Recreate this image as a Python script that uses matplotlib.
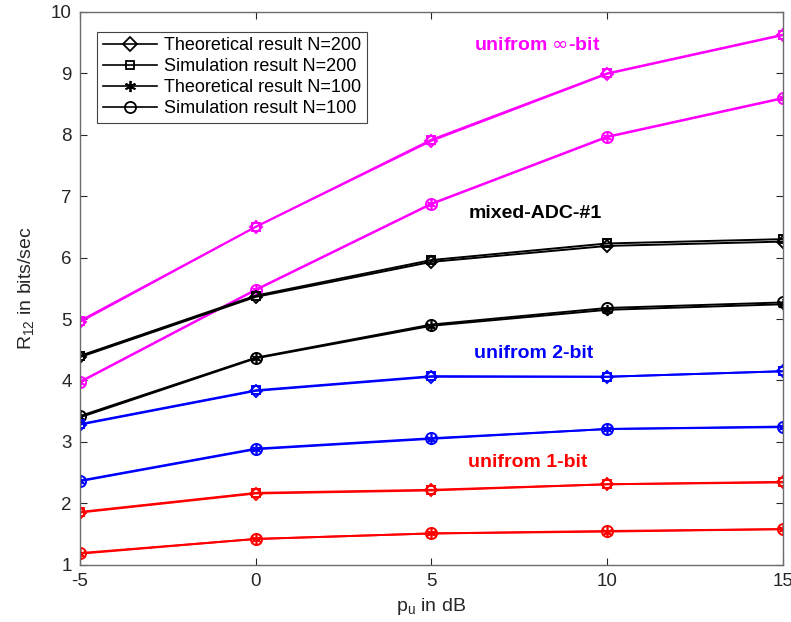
import numpy as np
import matplotlib.pyplot as plt

plt.rcParams['font.family'] = ['Liberation Sans', 'DejaVu Sans']

# transmit power in dB
pu = [-5, 0, 5, 10, 15]

# R12 in bits/sec
# N=200 (theoretical / simulation) and N=100 (theoretical / simulation)
inf_th200 = [4.95, 6.50, 7.90, 8.99, 9.62]
inf_sim200 = [4.97, 6.50, 7.92, 9.00, 9.63]
inf_th100 = [3.97, 5.47, 6.87, 7.96, 8.59]
inf_sim100 = [3.98, 5.48, 6.88, 7.97, 8.60]

mix_th200 = [4.38, 5.36, 5.93, 6.19, 6.26]
mix_sim200 = [4.40, 5.38, 5.96, 6.23, 6.30]
mix_th100 = [3.40, 4.36, 4.89, 5.15, 5.24]
mix_sim100 = [3.42, 4.37, 4.91, 5.18, 5.27]

b2_th200 = [3.28, 3.83, 4.06, 4.06, 4.15]
b2_sim200 = [3.29, 3.84, 4.07, 4.06, 4.15]
b2_th100 = [2.36, 2.88, 3.05, 3.21, 3.24]
b2_sim100 = [2.37, 2.89, 3.06, 3.21, 3.25]

b1_th200 = [1.85, 2.16, 2.21, 2.31, 2.34]
b1_sim200 = [1.86, 2.17, 2.22, 2.31, 2.35]
b1_th100 = [1.18, 1.42, 1.51, 1.54, 1.58]
b1_sim100 = [1.19, 1.42, 1.51, 1.55, 1.58]

groups = [
    ('#ff00ff', inf_th200, inf_sim200, inf_th100, inf_sim100),
    ('k', mix_th200, mix_sim200, mix_th100, mix_sim100),
    ('#0000ff', b2_th200, b2_sim200, b2_th100, b2_sim100),
    ('#ff0000', b1_th200, b1_sim200, b1_th100, b1_sim100),
]

fig = plt.figure(figsize=(7.91, 6.22), dpi=100)
ax = fig.add_axes([0.101, 0.092, 0.889, 0.889])

asterisk = (6, 2, 0)
for c, th200, sim200, th100, sim100 in groups:
    ax.plot(pu, th200, '-', color=c, marker='D', ms=6.5, mfc='none', mew=1.4, lw=1.4)
    ax.plot(pu, sim200, '-', color=c, marker='s', ms=6, mfc='none', mew=1.4, lw=1.4)
    ax.plot(pu, th100, '-', color=c, marker=asterisk, ms=8, mew=1.2, lw=1.4)
    ax.plot(pu, sim100, '-', color=c, marker='o', ms=8, mfc='none', mew=1.4, lw=1.4)

# legend entries in black
h1, = ax.plot([], [], '-k', marker='D', ms=7, mfc='none', mew=1.3, lw=1.2)
h2, = ax.plot([], [], '-k', marker='s', ms=6, mfc='none', mew=1.3, lw=1.2)
h3, = ax.plot([], [], '-k', marker=asterisk, ms=8, mew=1.3, lw=1.2)
h4, = ax.plot([], [], '-k', marker='o', ms=8, mfc='none', mew=1.3, lw=1.2)
leg = ax.legend([h1, h2, h3, h4],
                ['Theoretical result N=200', 'Simulation result N=200',
                 'Theoretical result N=100', 'Simulation result N=100'],
                loc='upper left', bbox_to_anchor=(0.012, 0.98), fontsize=13,
                fancybox=False, edgecolor='#444444', framealpha=1,
                handlelength=3.0, handletextpad=0.4, labelspacing=0.22,
                borderpad=0.3)
leg.get_frame().set_linewidth(0.8)

ax.text(8.0, 9.45, 'unifrom $\\infty$-bit', color='#ff00ff', fontsize=14,
        fontweight='bold', ha='center', va='center')
ax.text(7.95, 6.72, 'mixed-ADC-#1', color='k', fontsize=14,
        fontweight='bold', ha='center', va='center')
ax.text(7.9, 4.44, 'unifrom 2-bit', color='#0000ff', fontsize=14,
        fontweight='bold', ha='center', va='center')
ax.text(7.75, 2.66, 'unifrom 1-bit', color='#ff0000', fontsize=14,
        fontweight='bold', ha='center', va='center')

ax.set_xlim(-5, 15)
ax.set_ylim(1, 10)
ax.set_xticks([-5, 0, 5, 10, 15])
ax.set_yticks(range(1, 11))
ax.set_xticklabels(['-5', '0', '5', '10', '15'])
ax.tick_params(direction='in', top=True, right=True, labelsize=13.5,
               colors='#262626', length=5, width=0.8, pad=6)
for s in ax.spines.values():
    s.set_color('#6b6b6b')
    s.set_linewidth(1.0)

ax.set_xlabel('p$_\\mathregular{u}$ in dB', fontsize=14, color='#262626')
ax.set_ylabel('R$_\\mathregular{12}$ in bits/sec', fontsize=14, color='#262626',
              labelpad=10)

fig.savefig('out.png', dpi=100)
